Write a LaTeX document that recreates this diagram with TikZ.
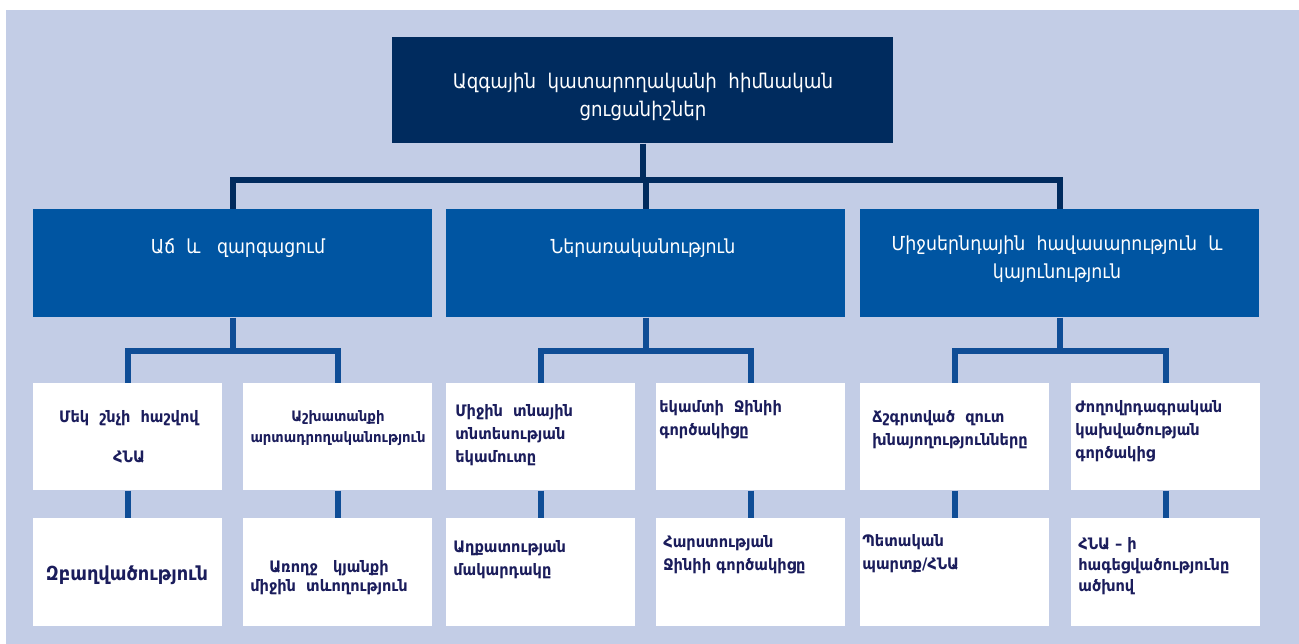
\documentclass[tikz,border=0pt]{standalone}
\usepackage{fontspec}
\setmainfont{DejaVu Sans}
\newfontfamily\headfont[FakeStretch=0.9]{DejaVu Sans}
\newfontfamily\cardfont[FakeStretch=0.92]{DejaVu Sans}
\usetikzlibrary{calc,positioning}
\definecolor{pagebg}{HTML}{C3CDE6}
\definecolor{navy}{HTML}{002B5E}
\definecolor{midblue}{HTML}{0055A2}
\definecolor{linkblue}{HTML}{0F4D96}
\definecolor{inkblue}{HTML}{1B1D5C}
\tikzset{
  topbox/.style={fill=navy, anchor=north west, inner sep=0pt,
    minimum width=10.02cm, minimum height=2.12cm},
  groupbox/.style={fill=midblue, anchor=north west, inner sep=0pt,
    minimum width=7.98cm, minimum height=2.16cm},
  card/.style={fill=white, anchor=north west, inner sep=0pt,
    minimum width=3.78cm},
  toplink/.style={draw=navy, line width=3.4pt},
  link/.style={draw=linkblue, line width=3.4pt},
  headtext/.style={text=white, inner sep=0pt, align=center,
    font=\headfont\fontsize{11.5}{16}\selectfont},
  grouptext/.style={text=white, inner sep=0pt, align=center,
    font=\headfont\fontsize{11}{16}\selectfont},
  cardtext/.style={text=inkblue, inner sep=0pt, align=left, anchor=west,
    font=\cardfont\fontsize{9}{13}\selectfont\bfseries},
  cardmid/.style={cardtext, align=center, anchor=center}
}

\begin{document}
\begin{tikzpicture}[x=0.02cm, y=-0.02cm]

  % page
  \useasboundingbox (0,0) rectangle (1299,644);
  \fill[pagebg] (6,10) rectangle (1299,644);

  % top and second level
  \node[topbox] (top) at (392,37) {};
  \node[groupbox] (a) at (33,209) {};
  \node[groupbox] (b) at (446,209) {};
  \node[groupbox] (c) at (860,209) {};

  \coordinate (bus) at (642,180);
  \draw[toplink] (top.south) -- (top.south |- bus);
  \draw[toplink] (a.north) |- (bus) -| (c.north);
  \draw[toplink] (b.north) -- (b.north |- bus);

  % white cards, two rows
  \foreach \n/\x in {a1/33, a2/243, b1/446, b2/656, c1/860, c2/1071}{
    \node[card, minimum height=2.14cm] (\n) at (\x,383) {};
    \node[card, minimum height=2.16cm] (\n-low) at (\x,518) {};
    \draw[link] (\n) -- (\n-low);
  }

  % second level to cards
  \foreach \g in {a,b,c}{
    \draw[link] (\g.south) -- ++(0,33) coordinate (\g-bus);
    \draw[link] (\g1.north) |- (\g-bus) -| (\g2.north);
  }

  % texts
  \node[headtext] (top-t) at (643,97) {Ազգային\ \ կատարողականի\ \ հիմնական\\ցուցանիշներ};
  \node[grouptext] (a-t) at (238,248) {Աճ\ \ և\ \ \ զարգացում};
  \node[grouptext] (b-t) at (643,248) {Ներառականություն};
  \node[grouptext] (c-t) at (1057,259) {Միջսերնդային\ \ հավասարություն\ \ և\\կայունություն};

  \node[cardmid] (a1-t) at (129,437) {Մեկ\ \ շնչի\ \ հաշվով\\[10pt]ՀՆԱ};
  \node[cardmid, font=\cardfont\fontsize{8.2}{12}\selectfont\bfseries] (a2-t) at (338,428) {Աշխատանքի\\արտադրողականություն};
  \node[cardtext] (b1-t) at (455,435) {Միջին\ \ տնային\\տնտեսության\\եկամուտը};
  \node[cardtext] (b2-t) at (659,420) {եկամտի\ \ Ջինիի\\գործակիցը};
  \node[cardtext] (c1-t) at (872,430) {Ճշգրտված\ \ զուտ\\խնայողությունները};
  \node[cardtext] (c2-t) at (1075,431) {Ժողովրդագրական\\կախվածության\\գործակից};

  \node[cardmid, font=\cardfont\fontsize{11}{14}\selectfont\bfseries] (a1-low-t) at (127,575) {Զբաղվածություն};
  \node[cardmid, font=\cardfont\fontsize{9}{11}\selectfont\bfseries] (a2-low-t) at (329,578) {Առողջ\ \ \ կյանքի\\միջին\ \ տևողություն};
  \node[cardtext] (b1-low-t) at (453,560) {Աղքատության\\մակարդակը};
  \node[cardtext] (b2-low-t) at (663,555) {Հարստության\\Ջինիի գործակիցը};
  \node[cardtext] (c1-low-t) at (862,554) {Պետական\\պարտք/ՀՆԱ};
  \node[cardtext, font=\cardfont\fontsize{9}{12}\selectfont\bfseries] (c2-low-t) at (1078,566) {ՀՆԱ – ի\\հագեցվածությունը\\ածխով};

\end{tikzpicture}
\end{document}
